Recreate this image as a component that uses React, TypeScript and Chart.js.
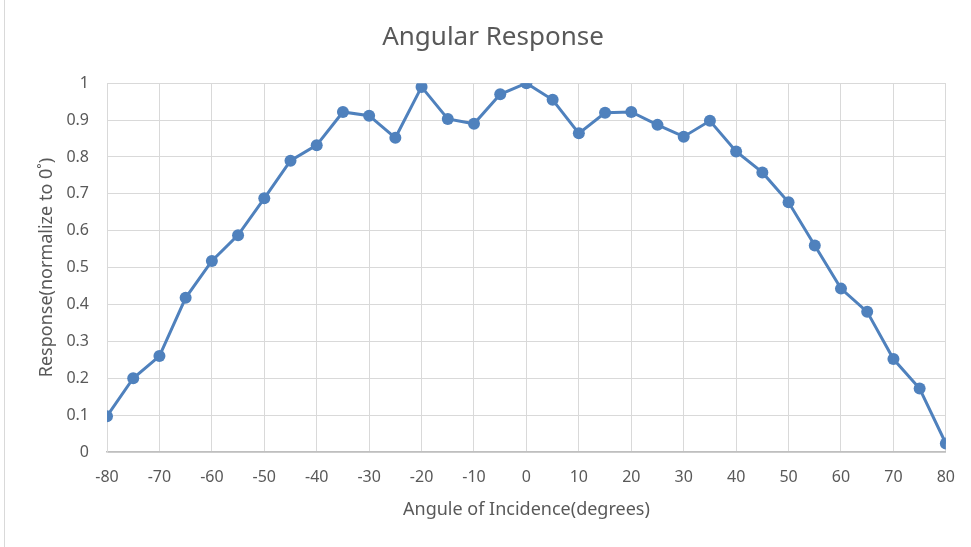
import React, { useEffect, useRef } from "react";
import { Chart, registerables } from "chart.js";

Chart.register(...registerables);

const angles = [-80, -75, -70, -65, -60, -55, -50, -45, -40, -35, -30, -25, -20, -15, -10, -5, 0, 5, 10, 15, 20, 25, 30, 35, 40, 45, 50, 55, 60, 65, 70, 75, 80];
const responses = [0.097, 0.2, 0.26, 0.418, 0.518, 0.588, 0.688, 0.79, 0.832, 0.922, 0.912, 0.852, 0.99, 0.903, 0.89, 0.97, 1.0, 0.955, 0.864, 0.92, 0.922, 0.887, 0.855, 0.898, 0.815, 0.758, 0.677, 0.56, 0.443, 0.38, 0.252, 0.172, 0.023];

const chartTitle = "Angular Response";
const xTitle = "Angule of Incidence(degrees)";
const yTitle = "Response(normalize to 0˚)";

const FONT = "'Noto Sans', 'Open Sans', sans-serif";
const TEXT = "#595959";

export default function App() {
  const ref = useRef<HTMLCanvasElement>(null);
  useEffect(() => {
    document.body.style.margin = "0";
    const ctx = ref.current!;
    const chart = new Chart(ctx, {
      type: "line",
      data: {
        datasets: [
          {
            data: angles.map((a, i) => ({ x: a, y: responses[i] })),
            borderColor: "#4f81bd",
            backgroundColor: "#4f81bd",
            borderWidth: 3,
            pointRadius: 6,
            pointBorderWidth: 0,
            pointBackgroundColor: "#4f81bd",
            tension: 0,
          },
        ],
      },
      options: {
        animation: false,
        responsive: false,
        layout: { padding: { left: 36, right: 21, top: 0, bottom: 26 } },
        plugins: {
          legend: { display: false },
          tooltip: { enabled: false },
          title: {
            display: true,
            text: chartTitle,
            color: TEXT,
            font: { family: FONT, size: 26, weight: "normal" },
            padding: { top: 22, bottom: 30 },
          },
        },
        scales: {
          x: {
            type: "linear",
            min: -80,
            max: 80,
            ticks: { stepSize: 10, color: TEXT, font: { family: FONT, size: 16 }, padding: 16 },
            grid: { color: "#d9d9d9", lineWidth: 1, drawTicks: false },
            border: { color: "#bfbfbf", width: 1.5 },
            title: {
              display: true,
              text: xTitle,
              color: TEXT,
              font: { family: FONT, size: 18 },
              padding: { top: 12, bottom: 0 },
            },
            afterFit: (s: any) => {
              s.height = 69;
            },
          },
          y: {
            min: 0,
            max: 1,
            ticks: {
              stepSize: 0.1,
              color: TEXT,
              font: { family: FONT, size: 16 },
              padding: 18,
              callback: (v: any) => String(Math.round(Number(v) * 10) / 10),
            },
            grid: { color: "#d9d9d9", lineWidth: 1, drawTicks: false },
            border: { color: "#d9d9d9", width: 1 },
            title: {
              display: true,
              text: yTitle,
              color: TEXT,
              font: { family: FONT, size: 18 },
              padding: { top: 0, bottom: 0 },
            },
            afterFit: (s: any) => {
              s.width = 71;
            },
          },
        },
      },
    });
    return () => chart.destroy();
  }, []);
  return (
    <div style={{ position: "relative", width: 971, height: 547, background: "#fff" }}>
      <div style={{ position: "absolute", left: 4, top: 0, bottom: 0, width: 0, borderLeft: "1px solid #d9d9d9" }} />
      <canvas ref={ref} width={971} height={547} style={{ display: "block" }} />
    </div>
  );
}
